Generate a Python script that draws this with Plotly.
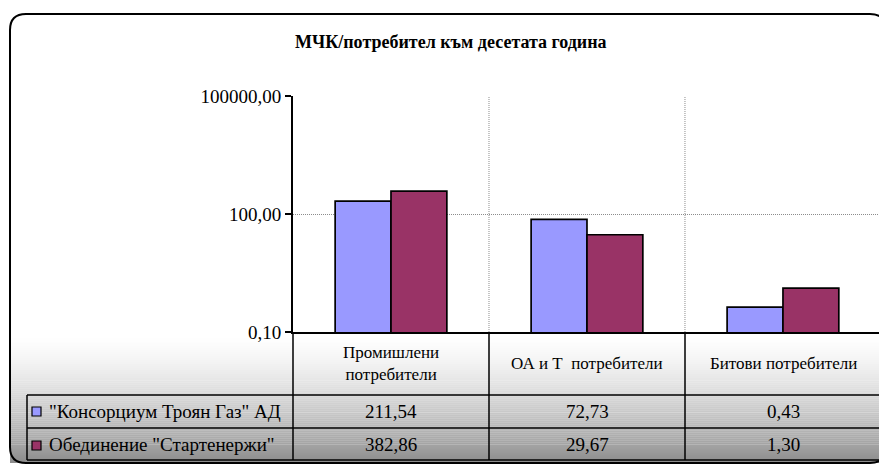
import plotly.graph_objects as go

W, H = 879, 465

categories = ["Промишлени<br>потребители", "ОА и Т  потребители", "Битови потребители"]
series_names = ['"Консорциум Троян Газ" АД', 'Обединение "Стартенержи"']
series_values = [
    [211.54, 72.73, 0.43],
    [382.86, 29.67, 1.30],
]
series_colors = ["#9999FF", "#993366"]
title_text = "МЧК/потребител към десетата година"
y_tickvals = [0.1, 100, 100000]
y_ticktext = ["0,10", "100,00", "100000,00"]

FONT = "Liberation Serif"


def px(x):
    return x / W


def py(y):
    return 1 - y / H


def fmt(v):
    return f"{v:.2f}".replace(".", ",")


fig = go.Figure()
xcats = [0, 1, 2]
for name, vals, col in zip(series_names, series_values, series_colors):
    fig.add_trace(go.Bar(
        x=xcats, y=vals, name=name,
        marker=dict(color=col, line=dict(color="black", width=1.7)),
        hoverinfo="y",
    ))

shapes = []
# gradient background (lower part of chart area)
y0g, y1g = 334, 463
n = 64
for i in range(n):
    a = y0g + (y1g - y0g) * i / n
    b = y0g + (y1g - y0g) * (i + 1) / n
    t = (i + 0.5) / n
    c = int(round(255 - (255 - 140) * t ** 1.5))
    shapes.append(dict(type="rect", xref="paper", yref="paper",
                       x0=px(10), x1=1, y0=py(b), y1=py(a) + 0.0005,
                       fillcolor=f"rgb({c},{c},{c})", line=dict(width=0), layer="below"))

# table lines
lc = dict(color="black", width=1.5)
for yy in [395, 428, 460]:
    shapes.append(dict(type="line", xref="paper", yref="paper",
                       x0=px(27), x1=1, y0=py(yy), y1=py(yy), line=lc))
shapes.append(dict(type="line", xref="paper", yref="paper",
                   x0=px(27), x1=px(27), y0=py(395), y1=py(460), line=lc))
for xx in [293, 489, 685]:
    shapes.append(dict(type="line", xref="paper", yref="paper",
                       x0=px(xx), x1=px(xx), y0=py(332), y1=py(460), line=lc))
# legend keys
for i, (yk, col) in enumerate(zip([407, 441], series_colors)):
    shapes.append(dict(type="rect", xref="paper", yref="paper",
                       x0=px(32), x1=px(41), y0=py(yk + 9), y1=py(yk),
                       fillcolor=col, line=dict(color="black", width=1.2)))

# outer rounded border
r = 16
L, T, R, B = 10, 14, 886, 463
path = (f"M {px(L)} {py(B - r)} L {px(L)} {py(T + r)} Q {px(L)} {py(T)} {px(L + r)} {py(T)} "
        f"L {px(R - r)} {py(T)} Q {px(R)} {py(T)} {px(R)} {py(T + r)} "
        f"L {px(R)} {py(B - r)} Q {px(R)} {py(B)} {px(R - r)} {py(B)} "
        f"L {px(L + r)} {py(B)} Q {px(L)} {py(B)} {px(L)} {py(B - r)} Z")
shapes.append(dict(type="path", xref="paper", yref="paper", path=path,
                   line=dict(color="black", width=2)))

annotations = []
annotations.append(dict(text=f"<b>{title_text}</b>", x=px(451), y=py(42), xref="paper", yref="paper",
                        showarrow=False, xanchor="center", yanchor="middle",
                        font=dict(family=FONT, size=18, color="black")))
centers = [391, 587, 783]
for cx, cat in zip(centers, categories):
    annotations.append(dict(text=cat, x=px(cx), y=py(363), xref="paper", yref="paper",
                            showarrow=False, xanchor="center", yanchor="middle",
                            font=dict(family=FONT, size=17, color="black")))
for yy, name, vals in zip([411, 444], series_names, series_values):
    annotations.append(dict(text=name, x=px(47), y=py(yy), xref="paper", yref="paper",
                            showarrow=False, xanchor="left", yanchor="middle",
                            font=dict(family=FONT, size=19, color="black")))
    for cx, v in zip(centers, vals):
        annotations.append(dict(text=fmt(v), x=px(cx), y=py(yy), xref="paper", yref="paper",
                                showarrow=False, xanchor="center", yanchor="middle",
                                font=dict(family=FONT, size=19, color="black")))

fig.update_layout(
    width=W, height=H,
    autosize=False,
    margin=dict(l=0, r=0, t=0, b=0, pad=0, autoexpand=False),
    paper_bgcolor="white", plot_bgcolor="white",
    showlegend=False,
    barmode="group", bargap=0.43, bargroupgap=0,
    shapes=shapes, annotations=annotations,
    xaxis=dict(domain=[px(293), 1], range=[-0.5, 2.49], type="linear",
               tickvals=[0, 1, 2], showticklabels=False, ticks="",
               showgrid=False, showline=True, linecolor="black", linewidth=2,
               zeroline=False, fixedrange=True, automargin=False),
    yaxis=dict(domain=[py(332), py(96)], type="log", range=[-1, 5],
               tickvals=y_tickvals, ticktext=y_ticktext,
               ticks="outside", ticklen=6, tickwidth=1.5, tickcolor="black",
               tickfont=dict(family=FONT, size=19, color="black"),
               showgrid=True, gridcolor="#8c8c8c", griddash="1px,1px", gridwidth=1,
               showline=True, linecolor="black", linewidth=2, zeroline=False,
               fixedrange=True, automargin=False),
)
# vertical dotted gridlines at category boundaries
for xb in [0.5, 1.5]:
    fig.add_shape(type="line", xref="x", yref="paper", x0=xb, x1=xb,
                  y0=py(332), y1=py(96), line=dict(color="#8c8c8c", width=1, dash="1px,1px"),
                  layer="below")

fig.write_html(
    "out.html",
    config={"displayModeBar": False},
    post_script="document.body.style.margin='0';document.body.style.overflow='hidden';",
)
